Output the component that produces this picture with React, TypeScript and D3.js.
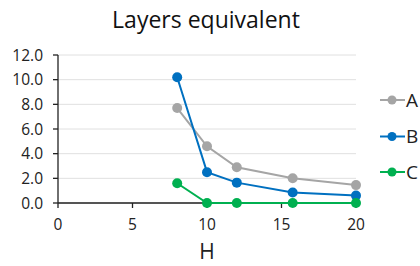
import React from 'react'
import * as d3 from 'd3'

const hValues = [8, 10, 12, 15.75, 20]
const seriesA = [7.7, 4.6, 2.9, 2.0, 1.45]
const seriesB = [10.2, 2.5, 1.65, 0.85, 0.6]
const seriesC = [1.6, 0, 0, 0, 0]
const seriesNames = ['A', 'B', 'C']
const seriesColors = ['#A5A5A5', '#0070C0', '#00B050']
const yTicks = [0, 2, 4, 6, 8, 10, 12]
const xTicks = [0, 5, 10, 15, 20]

const font = '"Open Sans", sans-serif'

export default function App() {
  const width = 420
  const height = 266
  const x = d3.scaleLinear().domain([0, 20]).range([58, 356])
  const y = d3.scaleLinear().domain([0, 12]).range([203, 55])
  const lineGen = d3
    .line<number>()
    .x((_, i) => x(hValues[i]))
    .y((d) => y(d))

  const all = [seriesA, seriesB, seriesC]
  const legendY = [100, 136.5, 172]

  return (
    <svg
      width={width}
      height={height}
      style={{ position: 'absolute', left: 0, top: 0, background: '#fff' }}
      fontFamily={font}
    >
      <text x={206} y={28} textAnchor="middle" fontSize={23} fill="#111">
        Layers equivalent
      </text>

      {/* gridlines */}
      {yTicks.map((t) => (
        <line key={'g' + t} x1={x(0)} x2={x(20)} y1={y(t)} y2={y(t)} stroke="#e0e0e0" strokeWidth={1} />
      ))}

      {/* y axis */}
      <line x1={x(0)} x2={x(0)} y1={y(12)} y2={y(0)} stroke="#222" strokeWidth={1.3} />
      {yTicks.map((t) => (
        <g key={'y' + t}>
          <line x1={x(0) - 5} x2={x(0)} y1={y(t)} y2={y(t)} stroke="#222" strokeWidth={1.3} />
          <text x={x(0) - 15} y={y(t)} dy="0.36em" textAnchor="end" fontSize={15.5} fill="#222">
            {t.toFixed(1)}
          </text>
        </g>
      ))}

      {/* x axis */}
      <line x1={x(0)} x2={x(20)} y1={y(0)} y2={y(0)} stroke="#222" strokeWidth={1.6} />
      {xTicks.map((t) => (
        <g key={'x' + t}>
          <line x1={x(t)} x2={x(t)} y1={y(0)} y2={y(0) + 5} stroke="#222" strokeWidth={1.3} />
          <text x={x(t)} y={y(0) + 27} textAnchor="middle" fontSize={15.5} fill="#222">
            {t}
          </text>
        </g>
      ))}
      <text x={207} y={259} textAnchor="middle" fontSize={21} fill="#222">
        H
      </text>

      {/* series */}
      {all.map((s, si) => (
        <g key={'s' + si}>
          <path d={lineGen(s) || ''} fill="none" stroke={seriesColors[si]} strokeWidth={2} />
          {s.map((v, i) => (
            <circle key={i} cx={x(hValues[i])} cy={y(v)} r={5} fill={seriesColors[si]} />
          ))}
        </g>
      ))}

      {/* legend */}
      {seriesNames.map((n, i) => (
        <g key={'l' + n}>
          <line x1={380} x2={405} y1={legendY[i]} y2={legendY[i]} stroke={seriesColors[i]} strokeWidth={2} />
          <circle cx={392} cy={legendY[i]} r={4.5} fill={seriesColors[i]} />
          <text x={406} y={legendY[i]} dy="0.36em" fontSize={19} fill="#222">
            {n}
          </text>
        </g>
      ))}
    </svg>
  )
}
